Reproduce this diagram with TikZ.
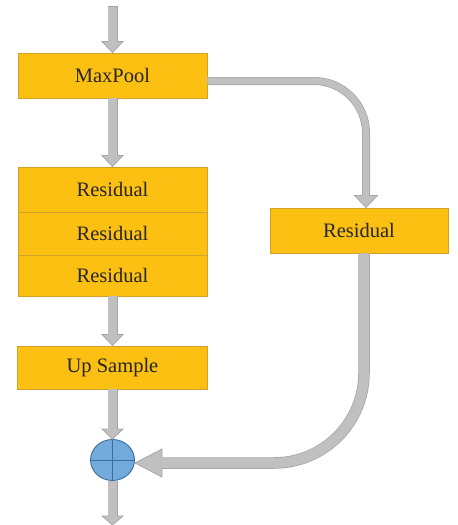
\documentclass[tikz,border=0pt]{standalone}
\usepackage{fontspec}
\setmainfont{Liberation Serif}
\usetikzlibrary{calc,shapes.geometric}

\definecolor{boxfill}{HTML}{FBC012}
\definecolor{boxedge}{HTML}{D2A12C}
\definecolor{arrowfill}{HTML}{C0C0C0}
\definecolor{arrowedge}{HTML}{A4A4A4}
\definecolor{sumfill}{HTML}{73AADC}
\definecolor{sumedge}{HTML}{3C6E9B}
\definecolor{labeltext}{HTML}{262626}

% head of a block arrow pointing down: tip, half width, length
\newcommand\headdown[3]{%
  \filldraw[arrowhead] (#1) -- ($(#1)+(-#2,-#3)$) -- ($(#1)+(#2,-#3)$) -- cycle;}
% head of a block arrow pointing left: tip, half width, length
\newcommand\headleft[3]{%
  \filldraw[arrowhead] (#1) -- ($(#1)+(#3,-#2)$) -- ($(#1)+(#3,#2)$) -- cycle;}
% straight downward block arrow: from, to, shaft width, head half width, head length
\newcommand\downconn[5]{%
  \coordinate (hb) at ($(#2)+(0,-#5)$);
  \draw[shaftout=#3] (#1) -- (hb);
  \headdown{#2}{#4}{#5}
  \draw[shaftin=#3] (#1) -- (hb);}

\begin{document}
\begin{tikzpicture}[x=1pt,y=-1pt,
  block/.style={draw=boxedge, fill=boxfill, line width=0.9pt,
    minimum width=189pt, inner sep=0pt, text=labeltext,
    font=\fontsize{20.5}{24}\selectfont},
  sum/.style={ellipse, draw=sumedge, fill=sumfill, line width=0.9pt,
    minimum width=44pt, minimum height=41pt, inner sep=0pt},
  shaftout/.style={draw=arrowedge, line width=#1},
  shaftin/.style={draw=arrowfill, line width=#1-1.4pt, shorten >=-2pt},
  arrowhead/.style={fill=arrowfill, draw=arrowedge, line width=0.7pt, line join=miter}]

\useasboundingbox (0,0) rectangle (458,525);

% main column
\node[block, minimum height=45pt] (maxpool) at (112.5,75.5) {MaxPool};
\node[block, minimum height=45pt] (res1) at (112.5,189.5) {Residual};
\node[block, minimum height=43pt] (res2) at (112.5,233.5) {Residual};
\node[block, minimum height=41pt] (res3) at (112.5,275.5) {Residual};
\node[block, minimum width=190pt, minimum height=43pt] (upsample) at (112.5,367.5) {Up Sample};

% skip branch
\node[block, minimum width=178pt, minimum height=45pt] (resR) at (359,230.5) {Residual};

% element-wise sum
\node[sum] (add) at (112.5,460) {};
\draw[sumedge, line width=0.9pt] (add.north) -- (add.south) (add.west) -- (add.east);

\coordinate (in) at (112.5,7);
\coordinate (out) at (112.5,525);

% straight arrows of the main column
\coordinate (hb) at ($(maxpool.north)+(0,-11)$);
\draw[shaftout=10pt, shorten <=-0.7pt] (in) -- (hb);
\headdown{maxpool.north}{10.5}{11}
\draw[shaftin=10pt] (in) -- (hb);

\downconn{maxpool.south}{res1.north}{10pt}{10.5}{11}
\downconn{res3.south}{upsample.north}{10pt}{10.5}{11}
\downconn{upsample.south}{add.north}{10pt}{10.5}{10}
\downconn{add.south}{out}{10pt}{10.5}{9}

% branch from MaxPool into the skip Residual
\coordinate (s1) at ($(maxpool.east)+(0,5.5)$);
\coordinate (t1) at ($(resR.north)+(7,0)$);
\coordinate (b1) at ($(t1)+(0,-12)$);
\draw[shaftout=8pt, rounded corners=52pt] (s1) -| (b1);
\headdown{t1}{11.5}{12}
\draw[shaftin=8pt, rounded corners=52pt] (s1) -| (b1);

% skip Residual back into the sum
\coordinate (s2) at ($(resR.south)+(5,0)$);
\coordinate (t2) at ($(add.east)+(0,3)$);
\coordinate (b2) at ($(t2)+(27,0)$);
\draw[shaftout=11.5pt, rounded corners=90pt] (s2) |- (b2);
\headleft{t2}{14}{27}
\draw[shaftin=11.5pt, rounded corners=90pt] (s2) |- (b2);

\end{tikzpicture}
\end{document}
